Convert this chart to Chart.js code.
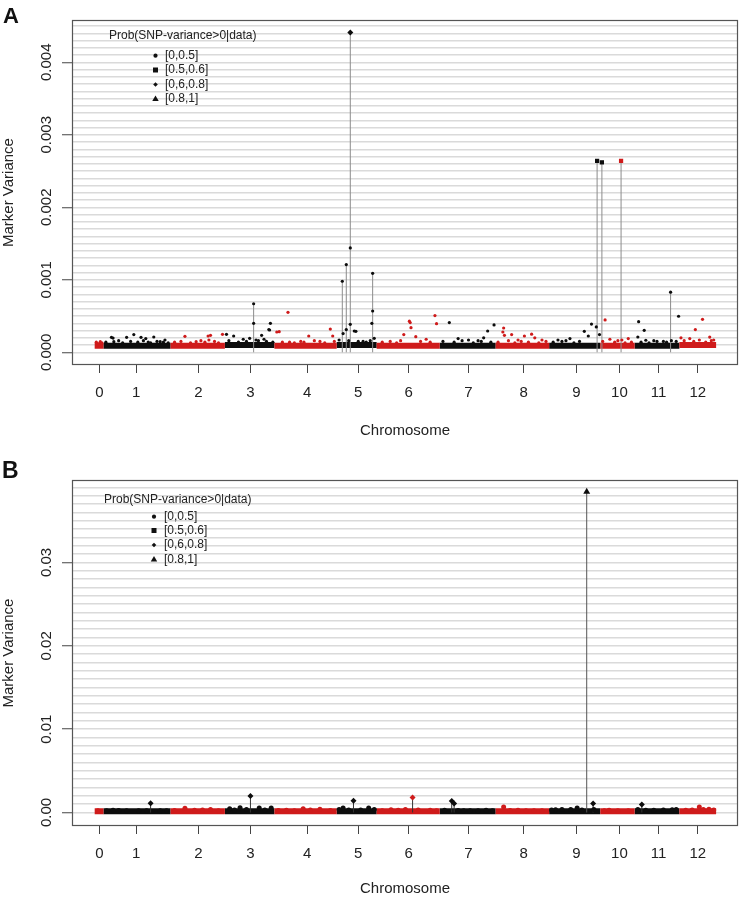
<!DOCTYPE html>
<html>
<head>
<meta charset="utf-8">
<script src="https://cdn.jsdelivr.net/npm/chart.js@4.4.1/dist/chart.umd.min.js"></script>
<style>
html,body{margin:0;padding:0;background:#fff;}
#wrap{width:742px;height:898px;position:relative;overflow:hidden;}
canvas{display:block;}
</style>
</head>
<body>
<div id="wrap">
<canvas id="cA" width="742" height="450"></canvas>
<canvas id="cB" width="742" height="448"></canvas>
</div>
<script>
// ---------------- data ----------------
const chromLabels = ['0','1','2','3','4','5','6','7','8','9','10','11','12'];
const chromTickPos = [6, 52, 130, 195, 266, 330, 393, 468, 537, 603, 657, 706, 755];
const chromBounds = [0, 11, 95, 163, 225, 303, 353, 432, 502, 569, 633, 676, 732, 778];
const legendTitle = 'Prob(SNP-variance>0|data)';
const probClassLabels = ['[0,0.5]', '[0.5,0.6]', '[0,6,0.8]', '[0.8,1]'];

// Panel A: typical (dense) marker variance level per chromosome
const bandA = [0.00009, 0.00009, 0.00009, 0.0001, 0.00009, 0.0001, 0.00009, 0.00009, 0.00009, 0.00009, 0.00009, 0.00009, 0.0001];
// Panel A: highlighted markers
const aPeakChrom = [5, 5, 5, 5, 5, 3, 9, 9, 10, 11];
const aPeakPos   = [320, 310, 315, 320, 348, 199, 629, 635, 659, 721];
const aPeakVar   = [0.00441, 0.00098, 0.00121, 0.00144, 0.00109, 0.00067, 0.00264, 0.00262, 0.00264, 0.00083];
const aPeakClass = [2, 0, 0, 0, 0, 0, 1, 1, 1, 0];
const aPeakStem  = [1, 1, 1, 0, 1, 1, 1, 1, 1, 1];
// Panel A: scattered markers above the dense band
const aDotChrom = [
  0,0,
  1,1,1,1,1,1,1,1,1,1,1,
  2,2,2,2,2,2,
  3,3,3,3,3,3,3,3,3,3,
  4,4,4,4,4,4,4,4,
  5,5,5,5,5,5,5,5,5,
  6,6,6,6,6,6,6,6,6,
  7,7,7,7,7,7,7,
  8,8,8,8,8,8,8,8,8,
  9,9,9,9,9,9,9,
  10,10,10,10,
  11,11,11,11,11,11,11,
  12,12,12,12,12,12
];
const aDotPos = [
  4,7,
  21,23,24,40,49,58,64,67,74,82,88,
  113,127,142,143,145,160,
  165,174,194,199,209,212,218,219,220,205,
  228,231,242,244,268,282,295,298,
  311,315,320,325,327,336,347,348,350,
  383,387,394,395,396,402,415,426,428,
  444,455,468,480,487,492,500,
  511,512,513,522,530,538,547,551,560,
  580,595,613,618,622,628,632,
  639,645,660,668,
  680,681,688,690,700,712,731,
  734,745,752,761,770,775
];
const aDotVar = [
  0.00012,0.000146,
  0.000207,0.000197,0.000146,0.000207,0.000244,0.000207,0.000189,0.000142,0.000211,0.000146,0.00017,
  0.00022,0.000146,0.000225,0.00017,0.000234,0.000248,
  0.000248,0.000225,0.000193,0.0004,0.000234,0.00018,0.000313,0.000308,0.0004,0.00016,
  0.00028,0.000284,0.000552,0.00014,0.000225,0.00015,0.000321,0.000225,
  0.000258,0.000313,0.000386,0.000294,0.00029,0.00015,0.0004,0.00057,0.000193,
  0.00016,0.000244,0.00043,0.00041,0.00034,0.000215,0.00018,0.000506,0.000395,
  0.00041,0.00019,0.00017,0.00016,0.0002,0.000294,0.000377,
  0.00028,0.000335,0.000234,0.000244,0.00017,0.000225,0.00025,0.0002,0.00017,
  0.00017,0.00019,0.00029,0.000225,0.00039,0.00035,0.000244,
  0.000446,0.00018,0.00017,0.00019,
  0.000211,0.000423,0.000303,0.000166,0.00016,0.00015,0.000497,
  0.0002,0.00019,0.000313,0.000455,0.00021,0.00017
];
// Panel A: markers on the fuzzy upper edge of the dense band
const aFuzzChrom = [
  0,0,
  1,1,1,1,1,1,1,1,1,1,
  2,2,2,2,2,2,2,
  3,3,3,3,3,3,3,
  4,4,4,4,4,4,4,
  5,5,5,5,5,
  6,6,6,6,6,
  7,7,7,7,7,7,
  8,8,8,8,8,8,8,
  9,9,9,9,9,
  10,10,10,10,10,
  11,11,11,11,11,11,
  12,12,12,12,12
];
const aFuzzPos = [
  2,9,
  14,30,35,45,54,61,70,78,86,92,
  100,108,120,133,138,150,155,
  168,180,186,190,202,215,223,
  235,250,258,262,275,288,300,
  306,318,330,340,345,
  360,370,378,408,420,
  436,450,460,474,484,496,
  505,518,526,534,543,556,565,
  574,585,590,600,607,
  636,651,655,664,672,
  684,694,704,716,722,728,
  738,750,757,765,772
];
const aFuzzVar = [
  0.00014,0.00013,
  0.00014,0.00016,0.00013,0.00015,0.00014,0.00016,0.00013,0.00015,0.00014,0.00013,
  0.00014,0.00015,0.00013,0.00016,0.00014,0.00015,0.00013,
  0.00016,0.00014,0.00018,0.00015,0.00017,0.00015,0.00014,
  0.00014,0.00013,0.00015,0.00014,0.00016,0.00013,0.00015,
  0.00017,0.00016,0.00015,0.00014,0.00016,
  0.00014,0.00015,0.00013,0.00015,0.00014,
  0.00015,0.00014,0.00016,0.00013,0.00015,0.00014,
  0.00014,0.00016,0.00013,0.00015,0.00014,0.00013,0.00015,
  0.00014,0.00015,0.00016,0.00013,0.00015,
  0.00015,0.00014,0.00016,0.00013,0.00014,
  0.00014,0.00013,0.00015,0.00014,0.00016,0.00015,
  0.00016,0.00015,0.00017,0.00014,0.00016
];

// Panel B
const bandB = [0.00016, 0.00016, 0.00016, 0.00016, 0.00016, 0.00016, 0.00016, 0.00016, 0.00016, 0.00016, 0.00016, 0.00016, 0.00016];
const bPeakChrom = [9, 1, 3, 5, 6, 7, 7, 9, 11];
const bPeakPos   = [616, 70, 195, 324, 398, 447, 450, 624, 685];
const bPeakVar   = [0.0385, 0.0011, 0.00198, 0.00142, 0.0018, 0.00139, 0.00108, 0.00108, 0.00096];
const bPeakClass = [3, 2, 2, 2, 2, 2, 2, 2, 2];
const bPeakStem  = [1, 1, 1, 1, 1, 1, 1, 1, 1];
const bDotChrom = [
  1,1,1, 2,2,2, 3,3,3,3, 4,4,4, 5,5, 6,6,6, 7,7,7, 8,8,8, 9,9,9, 10, 11,11, 12,12,12
];
const bDotPos = [
  23,40,82, 113,125,145, 169,182,206,221, 240,261,282, 311,343, 371,389,420, 438,470,490, 512,530,550, 577,596,604, 644, 700,723, 740,757,769
];
const bDotVar = [
  0.00028,0.00022,0.00022, 0.0005,0.00028,0.00036, 0.00045,0.00058,0.00054,0.00054, 0.00028,0.00046,0.00038, 0.00054,0.00054, 0.00034,0.00036,0.00028, 0.00028,0.00022,0.00028, 0.00066,0.00028,0.0002, 0.00034,0.00036,0.00054, 0.00028, 0.00028,0.00034, 0.00028,0.00066,0.00038
];
const bFuzzChrom = [
  0, 1,1,1,1,1, 2,2,2, 3,3,3, 4,4,4,4, 5,5,5,5, 6,6,6,6, 7,7,7,7, 8,8,8, 9,9,9,9, 10,10,10, 11,11,11,11, 12,12,12
];
const bFuzzPos = [
  4, 15,30,55,65,90, 100,135,155, 175,190,213, 230,250,270,295, 306,318,333,350, 360,380,405,428, 455,462,480,498, 520,540,560, 572,585,610,625, 638,655,668, 680,690,712,728, 748,762,775
];
const bFuzzVar = [
  0.0002, 0.0002,0.00025,0.0002,0.00022,0.0002, 0.00025,0.0003,0.00022, 0.0003,0.00035,0.0003, 0.00025,0.00022,0.0003,0.00025, 0.00035,0.0003,0.0003,0.00035, 0.0002,0.00028,0.0003,0.00022, 0.00025,0.0002,0.00022,0.0002, 0.00025,0.0002,0.00022, 0.0003,0.00035,0.0003,0.00035, 0.0002,0.00022,0.0002, 0.00035,0.00028,0.0003,0.00035, 0.0003,0.00035,0.0003
];

const yLabelValsA = [0, 0.001, 0.002, 0.003, 0.004];
const yLabelTextA = ['0.000', '0.001', '0.002', '0.003', '0.004'];
const yLabelValsB = [0, 0.01, 0.02, 0.03];
const yLabelTextB = ['0.00', '0.01', '0.02', '0.03'];

// ---------------- rendering ----------------
const FONT = "'Liberation Sans', Arial, Helvetica, sans-serif";
Chart.defaults.font.family = FONT;
Chart.defaults.color = '#222';
const RED = '#cf1b1b', BLACK = '#0d0d0d';
const styleOf = ['circle', 'rect', 'rectRot', 'triangle'];
const colorOf = c => (c % 2 === 0 ? RED : BLACK);

function drawMark(ctx, style, x, y, r) {
  ctx.beginPath();
  if (style === 'circle') ctx.arc(x, y, r, 0, Math.PI * 2);
  else if (style === 'rect') ctx.rect(x - r, y - r, 2 * r, 2 * r);
  else if (style === 'rectRot') { ctx.moveTo(x - r, y); ctx.lineTo(x, y - r); ctx.lineTo(x + r, y); ctx.lineTo(x, y + r); ctx.closePath(); }
  else { ctx.moveTo(x, y - r); ctx.lineTo(x + r * 0.95, y + r * 0.6); ctx.lineTo(x - r * 0.95, y + r * 0.6); ctx.closePath(); }
  ctx.fill();
}

const decor = {
  id: 'decor',
  afterDraw(chart, args, o) {
    const ctx = chart.ctx, ys = chart.scales.y, a = chart.chartArea;
    ctx.save();
    ctx.strokeStyle = '#555'; ctx.lineWidth = 1.2;
    ctx.strokeRect(a.left + 0.5, a.top + 0.5, a.right - a.left - 1, a.bottom - a.top - 1);
    ctx.fillStyle = '#222';
    ctx.font = '15px ' + FONT;
    o.yVals.forEach((v, i) => {
      const y = ys.getPixelForValue(v);
      ctx.save(); ctx.translate(o.yLabelX, y); ctx.rotate(-Math.PI / 2);
      ctx.textAlign = 'center'; ctx.textBaseline = 'alphabetic';
      ctx.fillText(o.yText[i], 0, 0); ctx.restore();
    });
    ctx.font = '12px ' + FONT; ctx.textAlign = 'left'; ctx.textBaseline = 'middle'; ctx.fillStyle = '#222';
    ctx.fillText(legendTitle, o.lg.titleX, o.lg.titleY);
    const mr = [2.1, 2.5, 2.3, 3.4];
    probClassLabels.forEach((t, i) => {
      const y = o.lg.itemY[i];
      ctx.fillStyle = '#111';
      drawMark(ctx, styleOf[i], o.lg.markX, y, mr[i]);
      ctx.fillStyle = '#222';
      ctx.fillText(t, o.lg.textX, y);
    });
    ctx.font = 'bold ' + o.letterSize + 'px ' + FONT; ctx.textBaseline = 'alphabetic';
    ctx.fillStyle = '#111';
    ctx.fillText(o.letter, o.letterX, o.letterY);
    ctx.restore();
  }
};

function buildDatasets(p) {
  const bandEven = [], bandOdd = [];
  for (let c = 0; c < chromLabels.length; c++) {
    const arr = c % 2 === 0 ? bandEven : bandOdd;
    arr.push({x: chromBounds[c], y: p.band[c]}, {x: chromBounds[c + 1], y: p.band[c]}, {x: chromBounds[c + 1], y: null});
  }
  const stemMain = [], stemOther = [];
  p.peakPos.forEach((x, i) => {
    if (!p.peakStem[i]) return;
    const arr = p.peakClass[i] === 3 ? stemMain : stemOther;
    arr.push({x: x, y: 0}, {x: x, y: p.peakVar[i]}, {x: x, y: null});
  });
  const dotChrom = p.dotChrom.concat(p.fuzzChrom);
  const dots = p.dotPos.map((x, i) => ({x: x, y: p.dotVar[i]}))
    .concat(p.fuzzPos.map((x, i) => ({x: x, y: p.fuzzVar[i]})));
  const peaks = p.peakPos.map((x, i) => ({x: x, y: p.peakVar[i]}));
  const lineBase = {type: 'line', showLine: true, pointRadius: 0, spanGaps: false, fill: false, tension: 0, borderCapStyle: 'butt'};
  return [
    Object.assign({}, lineBase, {data: bandEven, borderColor: RED, borderWidth: p.bandWidth, order: 5}),
    Object.assign({}, lineBase, {data: bandOdd, borderColor: BLACK, borderWidth: p.bandWidth, order: 5}),
    Object.assign({}, lineBase, {data: stemOther, borderColor: p.stemColor, borderWidth: 1, order: 3}),
    Object.assign({}, lineBase, {data: stemMain, borderColor: p.stemMainColor, borderWidth: 1, order: 3}),
    {type: 'scatter', data: dots, order: 2, borderWidth: 0,
     pointRadius: p.dotRadius, pointHoverRadius: p.dotRadius, pointStyle: 'circle',
     backgroundColor: ctx => colorOf(dotChrom[ctx.dataIndex])},
    {type: 'scatter', data: peaks, order: 1, borderWidth: 0,
     pointStyle: ctx => styleOf[p.peakClass[ctx.dataIndex]],
     pointRadius: ctx => p.peakRadius[p.peakClass[ctx.dataIndex]],
     backgroundColor: ctx => colorOf(p.peakChrom[ctx.dataIndex])}
  ];
}

function makeChart(id, p) {
  const isMajor = v => Math.abs(v / p.majorStep - Math.round(v / p.majorStep)) < 1e-6;
  return new Chart(document.getElementById(id), {
    type: 'scatter',
    data: {datasets: buildDatasets(p)},
    options: {
      responsive: false, animation: false, devicePixelRatio: 1,
      events: [],
      layout: {padding: {top: p.padTop, right: 3, left: 0, bottom: 0}},
      plugins: {
        legend: {display: false}, tooltip: {enabled: false},
        decor: {yVals: p.yVals, yText: p.yText, yLabelX: 51, lg: p.legend,
                letter: p.letter, letterX: p.letterX, letterY: p.letterY, letterSize: p.letterSize}
      },
      scales: {
        x: {
          type: 'linear', min: -28.4, max: 805.4,
          border: {display: false},
          grid: {drawOnChartArea: false, drawTicks: true, tickLength: 8, tickColor: '#444', tickWidth: 1},
          ticks: {autoSkip: false, maxRotation: 0, minRotation: 0, padding: 11, color: '#222',
                  font: {size: 15}, callback: (v, i) => chromLabels[i]},
          afterBuildTicks: s => { s.ticks = chromTickPos.map(v => ({value: v})); },
          afterFit: s => { s.height = p.xAxisHeight; },
          title: {display: true, text: 'Chromosome', color: '#222', font: {size: 15},
                  padding: {top: 0, bottom: p.xTitlePad}}
        },
        y: {
          type: 'linear', min: p.yMin, max: p.yMax,
          border: {display: false},
          grid: {color: '#dadada', lineWidth: 1.5, drawTicks: true, tickLength: 10, tickWidth: 1,
                 tickColor: c => (c.tick && isMajor(c.tick.value) ? '#444' : 'rgba(0,0,0,0)')},
          ticks: {display: false},
          afterBuildTicks: s => {
            const t = [];
            for (let i = 0; i <= p.gridCount; i++) t.push({value: i * p.gridStep});
            s.ticks = t;
          },
          afterFit: s => { s.width = 72; },
          title: {display: true, text: 'Marker Variance', color: '#222', font: {size: 15},
                  padding: {top: 0, bottom: 0}}
        }
      }
    },
    plugins: [decor]
  });
}

makeChart('cA', {
  band: bandA, bandWidth: 6,
  peakChrom: aPeakChrom, peakPos: aPeakPos, peakVar: aPeakVar, peakClass: aPeakClass, peakStem: aPeakStem,
  dotChrom: aDotChrom, dotPos: aDotPos, dotVar: aDotVar,
  fuzzChrom: aFuzzChrom, fuzzPos: aFuzzPos, fuzzVar: aFuzzVar, dotRadius: 1.6,
  peakRadius: [1.6, 3, 3, 3.8],
  stemColor: '#8c8c8c', stemMainColor: '#8c8c8c',
  yMin: -0.000175, yMax: 0.004583, gridStep: 0.0001, gridCount: 45, majorStep: 0.001,
  yVals: yLabelValsA, yText: yLabelTextA,
  padTop: 20, xAxisHeight: 85, xTitlePad: 10,
  legend: {titleX: 109, titleY: 36, markX: 155.5, textX: 165, itemY: [55.7, 70, 84.5, 99]},
  letter: 'A', letterX: 3, letterY: 23, letterSize: 22
});

makeChart('cB', {
  band: bandB, bandWidth: 6,
  peakChrom: bPeakChrom, peakPos: bPeakPos, peakVar: bPeakVar, peakClass: bPeakClass, peakStem: bPeakStem,
  dotChrom: bDotChrom, dotPos: bDotPos, dotVar: bDotVar,
  fuzzChrom: bFuzzChrom, fuzzPos: bFuzzPos, fuzzVar: bFuzzVar, dotRadius: 2.5,
  peakRadius: [2, 3, 3, 4],
  stemColor: '#333', stemMainColor: '#555',
  yMin: -0.00162, yMax: 0.0399, gridStep: 0.001, gridCount: 39, majorStep: 0.01,
  yVals: yLabelValsB, yText: yLabelTextB,
  padTop: 30, xAxisHeight: 72, xTitlePad: 0,
  legend: {titleX: 104, titleY: 50, markX: 154, textX: 164, itemY: [66.7, 80.5, 95, 109.5]},
  letter: 'B', letterX: 2, letterY: 28, letterSize: 23
});
</script>
</body>
</html>
